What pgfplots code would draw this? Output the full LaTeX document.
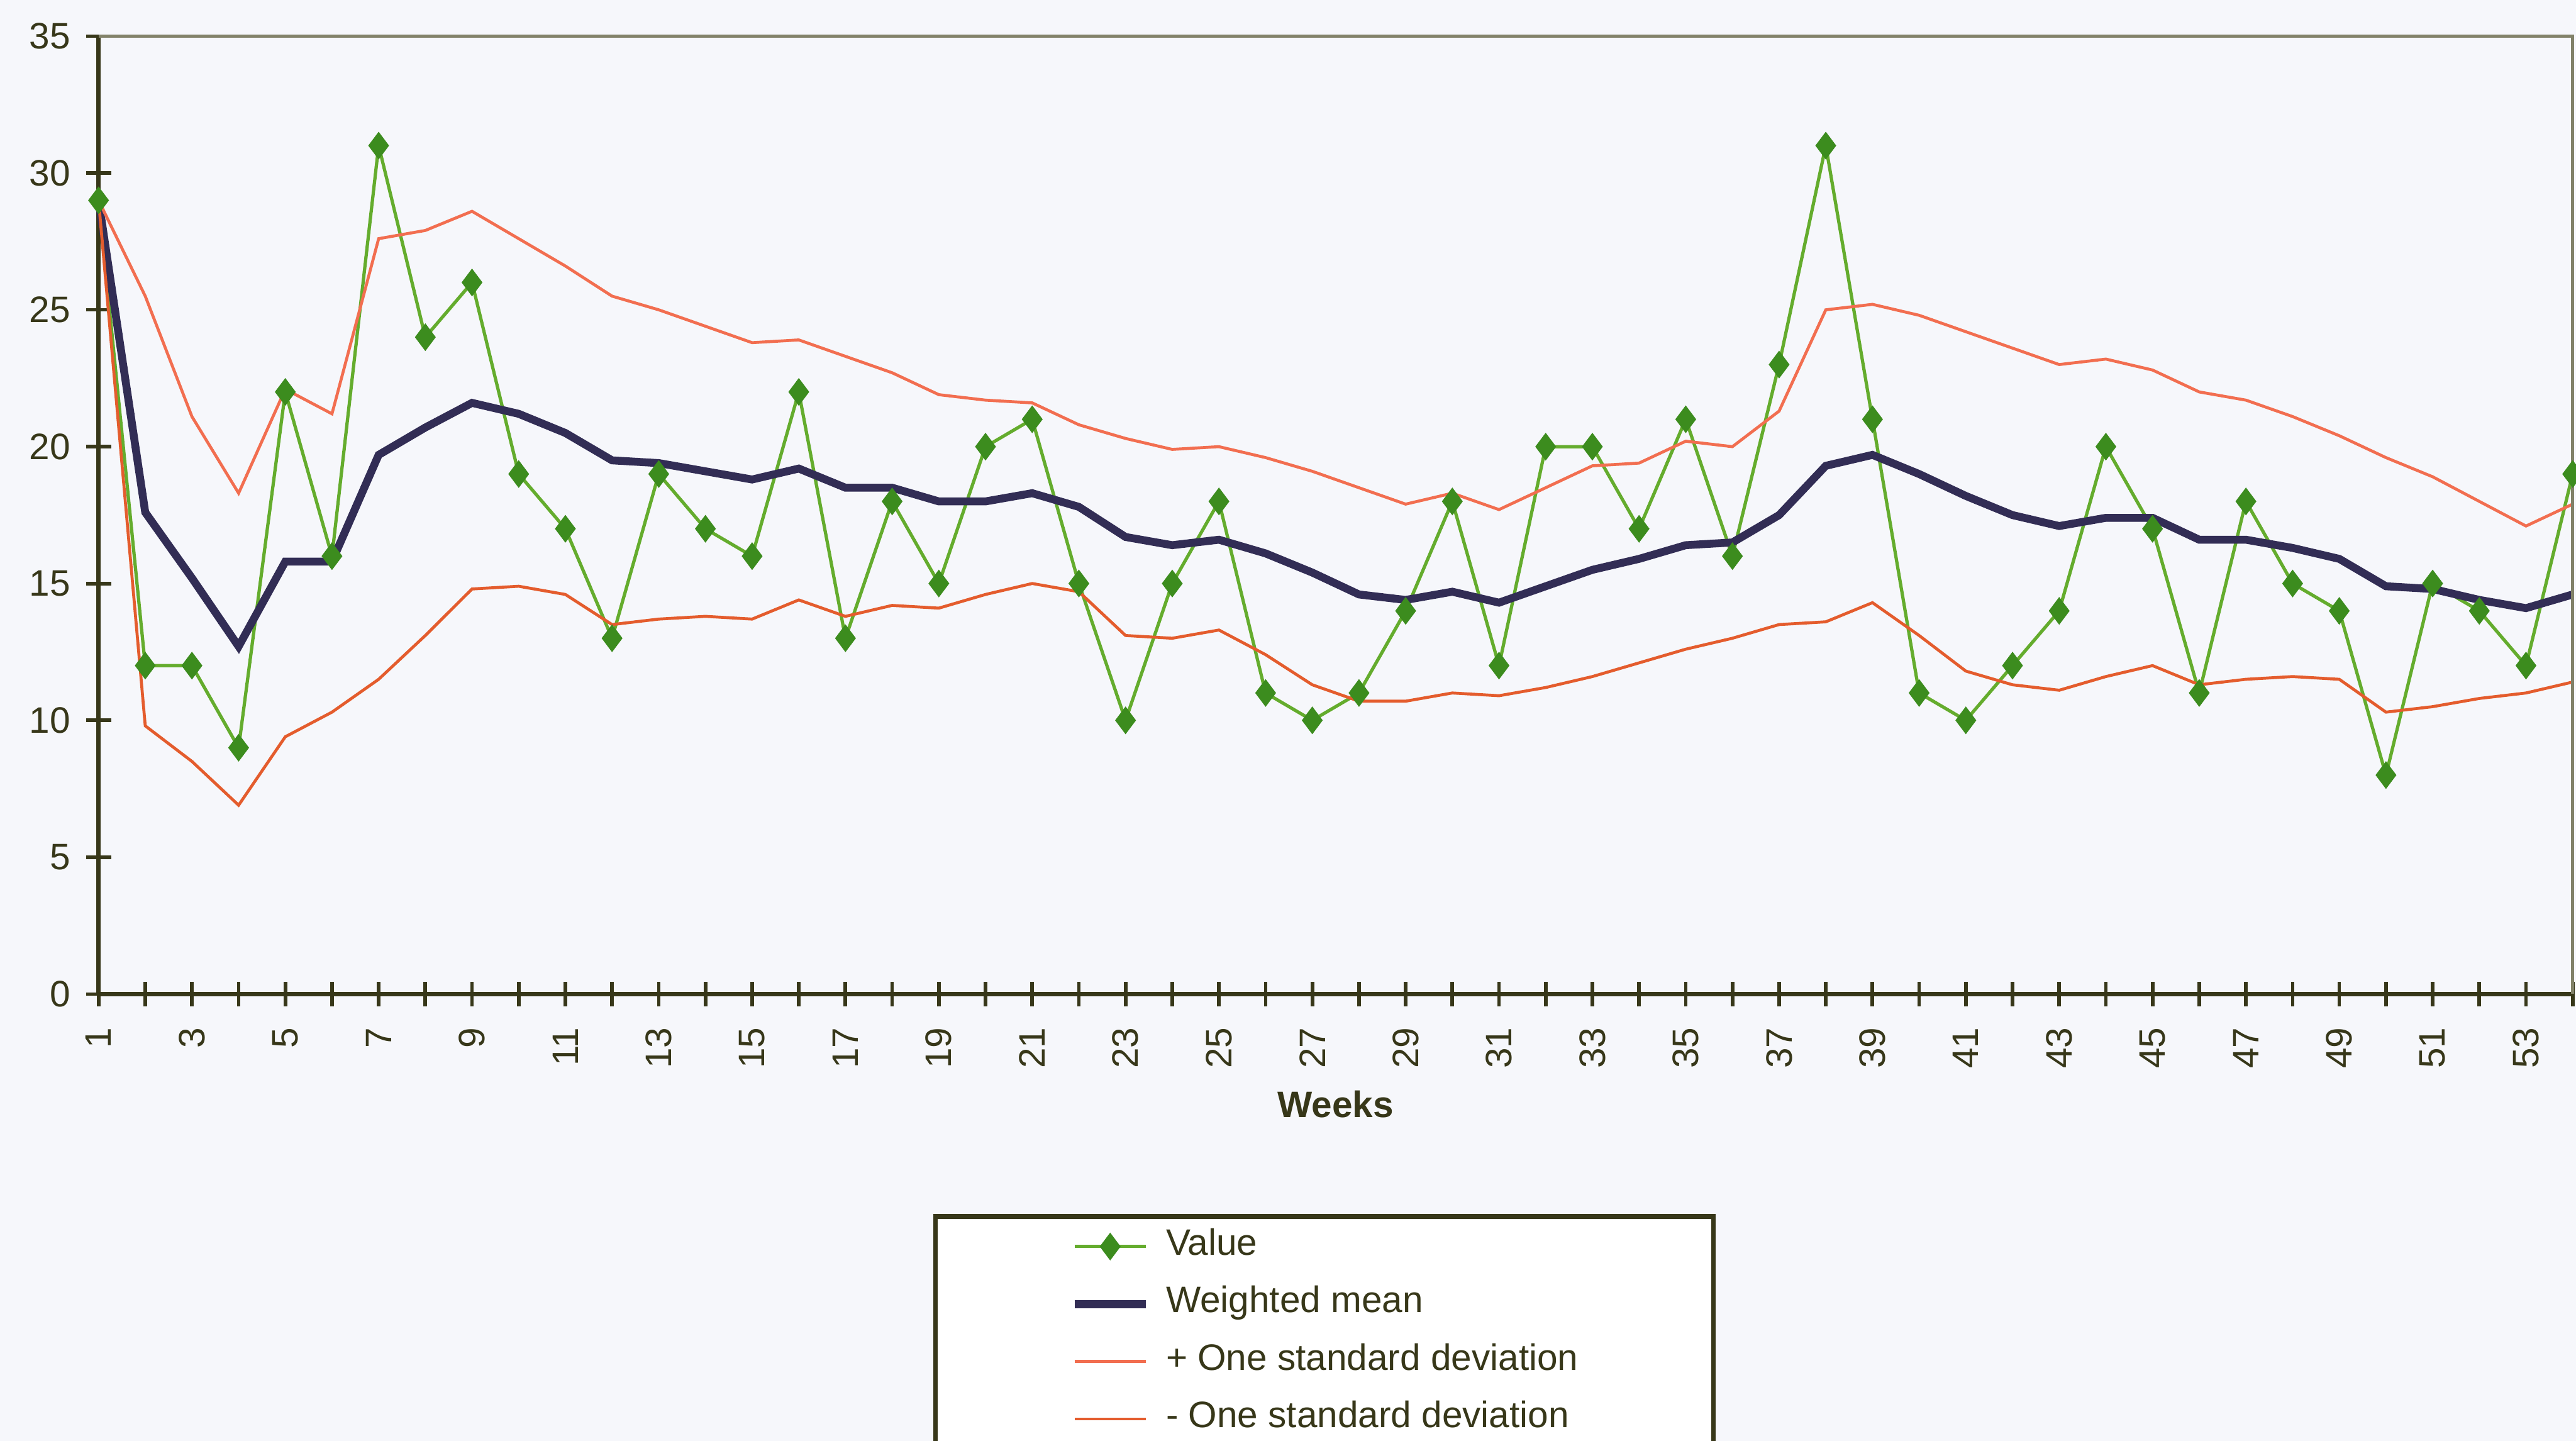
\documentclass[border=0pt]{standalone}
\usepackage{pgfplots}
\usepackage{pgfplotstable}
\pgfplotsset{compat=1.18}
\usepackage{fontspec}
\setmainfont{Liberation Sans}
\definecolor{axcol}{RGB}{55,55,25}
\definecolor{bordcol}{RGB}{130,130,105}
\definecolor{valline}{RGB}{100,172,45}
\definecolor{valmark}{RGB}{60,140,30}
\definecolor{meancol}{RGB}{50,45,85}
\definecolor{upcol}{RGB}{242,110,80}
\definecolor{locol}{RGB}{228,92,45}
\definecolor{bgcol}{RGB}{246,247,251}

\pgfplotstableread{
w val mean up lo
1 29 29.0 29.0 29.0
2 12 17.6 25.5 9.8
3 12 15.2 21.1 8.5
4 9 12.7 18.3 6.9
5 22 15.8 22.1 9.4
6 16 15.8 21.2 10.3
7 31 19.7 27.6 11.5
8 24 20.7 27.9 13.1
9 26 21.6 28.6 14.8
10 19 21.2 27.6 14.9
11 17 20.5 26.6 14.6
12 13 19.5 25.5 13.5
13 19 19.4 25.0 13.7
14 17 19.1 24.4 13.8
15 16 18.8 23.8 13.7
16 22 19.2 23.9 14.4
17 13 18.5 23.3 13.8
18 18 18.5 22.7 14.2
19 15 18.0 21.9 14.1
20 20 18.0 21.7 14.6
21 21 18.3 21.6 15.0
22 15 17.8 20.8 14.7
23 10 16.7 20.3 13.1
24 15 16.4 19.9 13.0
25 18 16.6 20.0 13.3
26 11 16.1 19.6 12.4
27 10 15.4 19.1 11.3
28 11 14.6 18.5 10.7
29 14 14.4 17.9 10.7
30 18 14.7 18.3 11.0
31 12 14.3 17.7 10.9
32 20 14.9 18.5 11.2
33 20 15.5 19.3 11.6
34 17 15.9 19.4 12.1
35 21 16.4 20.2 12.6
36 16 16.5 20.0 13.0
37 23 17.5 21.3 13.5
38 31 19.3 25.0 13.6
39 21 19.7 25.2 14.3
40 11 19.0 24.8 13.1
41 10 18.2 24.2 11.8
42 12 17.5 23.6 11.3
43 14 17.1 23.0 11.1
44 20 17.4 23.2 11.6
45 17 17.4 22.8 12.0
46 11 16.6 22.0 11.3
47 18 16.6 21.7 11.5
48 15 16.3 21.1 11.6
49 14 15.9 20.4 11.5
50 8 14.9 19.6 10.3
51 15 14.8 18.9 10.5
52 14 14.4 18.0 10.8
53 12 14.1 17.1 11.0
54 19 14.6 17.9 11.4
}\datatable

\begin{document}
\begin{tikzpicture}
\fill[bgcol] (-15pt,-68pt) rectangle (377pt,151.25pt);
\begin{axis}[
  scale only axis, width=376.5pt, height=145.75pt,
  xmin=1, xmax=54, ymin=0, ymax=35,
  clip=false,
  axis x line*=bottom, axis y line*=left,
  axis line style={axcol, line width=0.65pt},
  xtick={1,...,54},
  xticklabels={1,,3,,5,,7,,9,,11,,13,,15,,17,,19,,21,,23,,25,,27,,29,,31,,33,,35,,37,,39,,41,,43,,45,,47,,49,,51,,53,},
  ytick={0,5,...,35},
  tick align=center, major tick length=3.8pt,
  tick style={axcol, line width=0.55pt},
  /pgf/number format/assume math mode=true,
  tick label style={font=\fontsize{5.6}{6}\selectfont, text=axcol},
  yticklabel style={anchor=east, inner sep=0pt, xshift=-2.2pt},
  xticklabel style={rotate=90, anchor=east, inner sep=0pt, xshift=-3.0pt},
  xlabel={Weeks},
  xlabel style={at={(axis description cs:0.5,-0.1149)}, anchor=center, font=\bfseries\fontsize{5.6}{6}\selectfont, text=axcol},
  legend cell align=left,
  legend style={at={(0.3373,-0.2298)}, anchor=north west, draw=axcol, line width=0.7pt, fill=white,
    inner xsep=20.6pt, inner ysep=0.2pt, font=\fontsize{5.6}{6}\selectfont,
    nodes={inner sep=0pt, minimum height=8.75pt, text=axcol}, column sep=2.5pt, row sep=0pt},
  legend image code/.code={\draw[mark repeat=2,mark phase=2,#1] plot coordinates {(0pt,0pt) (5.4pt,0pt) (10.8pt,0pt)};},
]
\addplot[valline, line width=0.5pt, mark=diamond*, mark size=1.7pt, mark options={solid, fill=valmark, draw=valmark}] table[x=w, y=val] {\datatable};
\addlegendentry{Value}
\addplot[meancol, line width=1.2pt, no markers] table[x=w, y=mean] {\datatable};
\addlegendentry{Weighted mean}
\addplot[upcol, line width=0.45pt, no markers] table[x=w, y=up] {\datatable};
\addlegendentry{+ One standard deviation}
\addplot[locol, line width=0.45pt, no markers] table[x=w, y=lo] {\datatable};
\addlegendentry{- One standard deviation}
\draw[bordcol, line width=0.45pt] (rel axis cs:0,1) -- (rel axis cs:1,1) -- (rel axis cs:1,0);
\end{axis}
\pgfresetboundingbox
\path[use as bounding box] (-15pt,-68pt) rectangle (377pt,151.25pt);
\end{tikzpicture}
\end{document}
